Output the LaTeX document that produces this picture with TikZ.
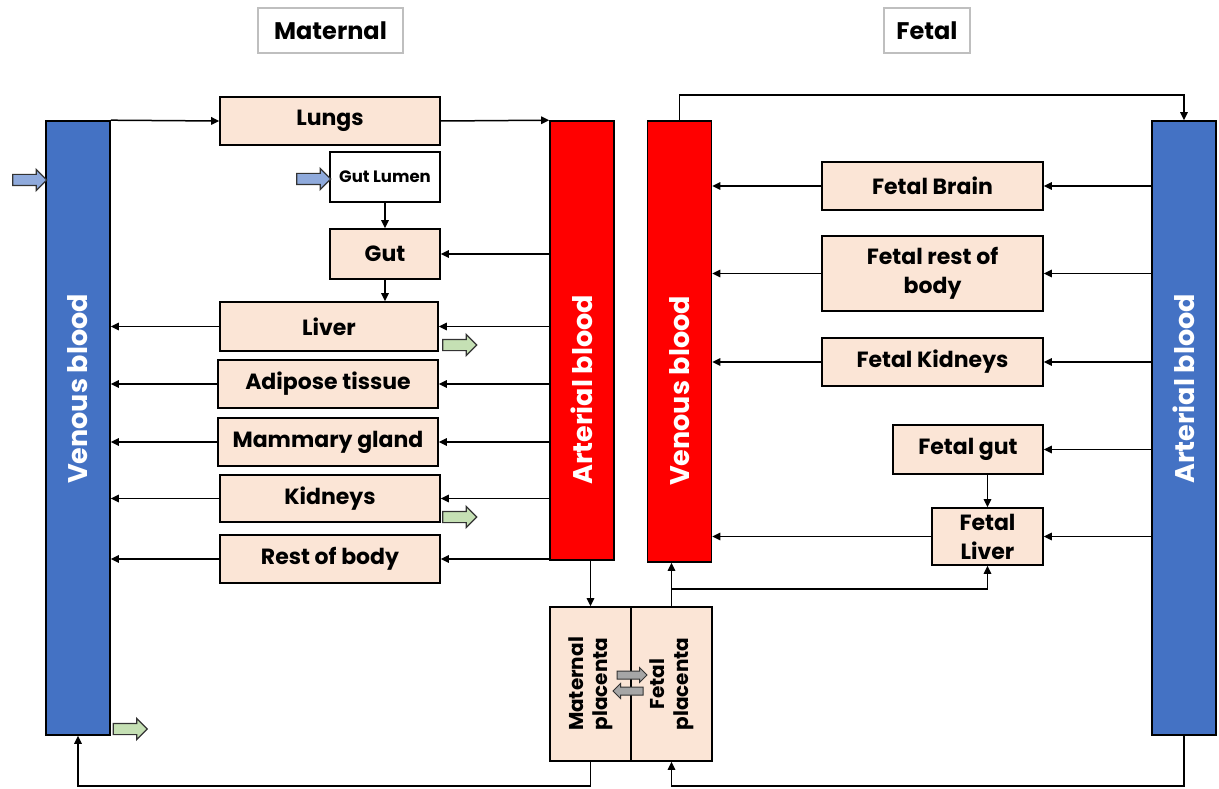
\documentclass[tikz,border=0pt]{standalone}
\usepackage{fontspec}
\usepackage{graphicx}
\setsansfont{Poppins}
\usetikzlibrary{arrows.meta,shapes.arrows}

\definecolor{peach}{RGB}{251,229,214}
\definecolor{venblue}{RGB}{68,114,196}
\definecolor{artred}{RGB}{255,0,0}
\definecolor{inblue}{RGB}{143,170,220}
\definecolor{outgreen}{RGB}{197,224,180}
\definecolor{swapgrey}{RGB}{166,166,166}

% upright text: pad below, pad above, text
\newcommand{\vtext}[3]{\rotatebox{90}{\hspace*{#1}#3\hspace*{#2}}}

\tikzset{
  organ/.style={draw=black, line width=1.6pt, fill=peach, align=center, inner sep=0pt,
    font=\sffamily\bfseries\fontsize{22}{29}\selectfont},
  bloodbar/.style={draw=black, line width=1.6pt, inner sep=0pt, minimum width=64pt,
    text=white, font=\sffamily\bfseries\fontsize{27}{30}\selectfont},
  titlebox/.style={draw=black!25, line width=1.2pt, inner sep=0pt, minimum height=45pt,
    font=\sffamily\bfseries\fontsize{24}{30}\selectfont},
  flow/.style={line width=1.5pt, -{Triangle[length=8pt,width=7.5pt]}},
  bigarrow/.style={single arrow, draw=black!80, line width=1.2pt, inner xsep=0pt,
    inner ysep=5pt, single arrow head extend=5pt, minimum height=34pt},
  swaparrow/.style={single arrow, draw=black!80, fill=swapgrey, line width=1pt, inner xsep=0pt,
    inner ysep=3.5pt, single arrow head extend=3.5pt, minimum height=30pt},
}

\begin{document}
\begin{tikzpicture}[x=1pt,y=-1pt]
\useasboundingbox (0,0) rectangle (1219,789);

% headings
\node[titlebox, minimum width=145pt] (matTitle) at (330.5,30.5) {Maternal};
\node[titlebox, minimum width=86pt] (fetTitle) at (927,30.5) {Fetal};

% blood columns
\node[bloodbar, fill=venblue, minimum height=614pt] (venM) at (78,428) {\vtext{78pt}{0pt}{Venous blood}};
\node[bloodbar, fill=artred, minimum height=439pt] (artM) at (582,340.5) {\vtext{0pt}{99pt}{Arterial blood}};
\node[bloodbar, fill=artred, minimum height=441pt] (fVen) at (679.5,341.5) {\vtext{0pt}{99pt}{Venous blood}};
\node[bloodbar, fill=venblue, minimum height=614pt] (fArt) at (1184,428) {\vtext{78pt}{0pt}{Arterial blood}};

% maternal organs
\node[organ, minimum width=220pt, minimum height=48pt] (lungs) at (330,121) {Lungs};
\node[organ, fill=white, minimum width=110pt, minimum height=50pt,
  font=\sffamily\bfseries\fontsize{16.5}{20}\selectfont] (gutLumen) at (385,177) {Gut Lumen};
\node[organ, minimum width=110pt, minimum height=50pt] (gut) at (385,254) {Gut};
\node[organ, minimum width=218pt, minimum height=49pt] (liver) at (329,326.5) {Liver};
\node[organ, minimum width=220pt, minimum height=48pt] (adipose) at (328,384) {Adipose tissue};
\node[organ, minimum width=220pt, minimum height=48pt] (mammary) at (328,442) {Mammary gland};
\node[organ, minimum width=220pt, minimum height=47pt] (kidneys) at (330,498.5) {Kidneys};
\node[organ, minimum width=220pt, minimum height=48pt] (restBody) at (330,559) {Rest of body};

% placenta
\node[organ, minimum width=81pt, minimum height=154pt,
  font=\sffamily\bfseries\fontsize{20}{24}\selectfont] (mPlac) at (590.5,684)
  {\vtext{0pt}{0pt}{\begin{tabular}{@{}c@{}}Maternal\\placenta\end{tabular}}};
\node[organ, minimum width=81pt, minimum height=154pt,
  font=\sffamily\bfseries\fontsize{20}{24}\selectfont] (fPlac) at (671.5,684)
  {\vtext{0pt}{0pt}{\begin{tabular}{@{}c@{}}Fetal\\placenta\end{tabular}}};

% fetal organs
\node[organ, minimum width=221pt, minimum height=48pt] (fBrain) at (932.5,186) {Fetal Brain};
\node[organ, minimum width=221pt, minimum height=75pt] (fRest) at (932.5,273.5) {Fetal rest of\\body};
\node[organ, minimum width=221pt, minimum height=48pt] (fKid) at (932.5,362) {Fetal Kidneys};
\node[organ, minimum width=150pt, minimum height=49pt] (fGut) at (968,449.5) {Fetal gut};
\node[organ, minimum width=111pt, minimum height=57pt] (fLiver) at (987.5,536.5) {Fetal\\Liver};

% maternal flows
\draw[flow] (venM.north east) -- (lungs.west);
\draw[flow] (lungs.east) -- (artM.north west);
\draw[flow] (gutLumen.south) -- (gutLumen.south |- gut.north);
\draw[flow] (artM.west |- gut.east) -- (gut.east);
\draw[flow] (gut.south) -- (gut.south |- liver.north);
\foreach \o in {liver,adipose,mammary,kidneys,restBody}{
  \draw[flow] (artM.west |- \o.east) -- (\o.east);
  \draw[flow] (\o.west) -- (venM.east |- \o.west);
}
\draw[flow] (mPlac.north |- artM.south) -- (mPlac.north);
\draw[flow] (mPlac.south) -- ++(0,24) -| (venM.south);

% fetal flows
\foreach \o in {fBrain,fRest,fKid,fLiver}{
  \draw[flow] (fArt.west |- \o.east) -- (\o.east);
  \draw[flow] (\o.west) -- (fVen.east |- \o.west);
}
\draw[flow] (fArt.west |- fGut.east) -- (fGut.east);
\draw[flow] (fGut.south -| fLiver.north) -- (fLiver.north);
\draw[flow] (fPlac.north) -- (fPlac.north |- fVen.south);
\path (fPlac.north) ++(0,-17) coordinate (fJoin);
\draw[flow] (fJoin) -| (fLiver.south);
\draw[flow] (fArt.south) -- ++(0,50) -| (fPlac.south);
\draw[flow] (fVen.north) -- ++(0,-25) -| (fArt.north);

% inputs, outputs and exchange
\node[bigarrow, fill=inblue] (inVen) at (27,180) {};
\node[bigarrow, fill=inblue] (inGut) at (311,179) {};
\node[bigarrow, fill=outgreen] (outLiver) at (457,345) {};
\node[bigarrow, fill=outgreen] (outKid) at (457,517) {};
\node[bigarrow, fill=outgreen] (outVen) at (127.5,729) {};
\node[swaparrow] (toFetal) at (630,675) {};
\node[swaparrow, shape border rotate=180] (toMaternal) at (630,691) {};

\end{tikzpicture}
\end{document}
